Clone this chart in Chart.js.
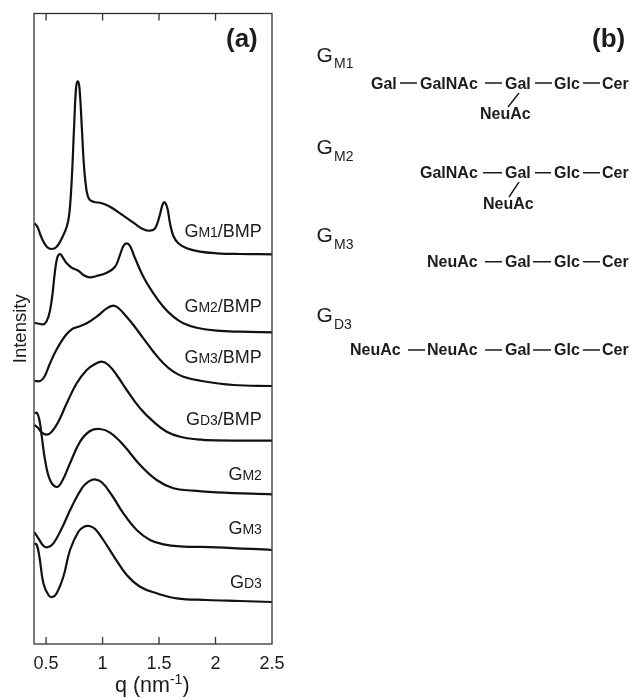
<!DOCTYPE html>
<html>
<head>
<meta charset="utf-8">
<title>Scattering profiles</title>
<script src="https://cdn.jsdelivr.net/npm/chart.js@4/dist/chart.umd.min.js"></script>
<style>
  html, body { margin: 0; padding: 0; background: #fff; }
  canvas { display: block; }
</style>
</head>
<body>
<canvas id="profiles" width="631" height="698"></canvas>
<script>
const xTicks = [0.5, 1, 1.5, 2, 2.5];

// curves, stacked offset included
const gm1BmpQ = [0.397, 0.423, 0.462, 0.506, 0.55, 0.594, 0.639, 0.683, 0.706, 0.727, 0.748, 0.765, 0.78, 0.795, 0.816, 0.836, 0.86, 0.883, 0.919, 0.993, 1.066, 1.155, 1.273, 1.361, 1.42, 1.465, 1.503, 1.53, 1.55, 1.574, 1.597, 1.627, 1.671, 1.745, 1.863, 2.01, 2.217, 2.5];
const gm1BmpI = [420.7, 417.3, 405.7, 397.3, 395, 397.3, 405.7, 417.3, 430.7, 464, 517.3, 555.7, 562.7, 556.7, 517.3, 477.3, 452.3, 444.7, 442.3, 440.7, 437.3, 430.7, 421.3, 414.7, 413.3, 415.7, 427.3, 439, 441.7, 435.7, 420.7, 408, 400.7, 395.7, 392.3, 390.7, 390, 389.7];

const gm2BmpQ = [0.397, 0.447, 0.485, 0.521, 0.55, 0.58, 0.6, 0.624, 0.647, 0.683, 0.727, 0.786, 0.83, 0.883, 0.948, 1.037, 1.111, 1.149, 1.184, 1.214, 1.243, 1.288, 1.361, 1.45, 1.538, 1.627, 1.715, 1.833, 2.01, 2.217, 2.5];
const gm2BmpI = [321.3, 320, 320, 327.3, 344, 374, 386.7, 390, 386.7, 380.7, 376.3, 373.3, 369, 366.7, 368, 371.3, 377.3, 387.3, 398, 400.7, 398, 385.7, 367.3, 350.7, 337.3, 327.3, 320.7, 316.3, 313.3, 312.3, 311.7];

const gm3BmpQ = [0.397, 0.447, 0.485, 0.535, 0.594, 0.668, 0.727, 0.771, 0.86, 0.948, 1.037, 1.096, 1.14, 1.199, 1.273, 1.361, 1.45, 1.538, 1.627, 1.715, 1.863, 2.158, 2.5];
const gm3BmpI = [263, 263, 267.3, 280.7, 294.7, 308, 314.7, 316.7, 320.7, 327.3, 335.7, 338.3, 336, 329, 319, 305.7, 292.3, 280.7, 272.3, 267.3, 263.3, 259, 258];

const gd3BmpQ = [0.397, 0.432, 0.462, 0.506, 0.55, 0.609, 0.683, 0.771, 0.86, 0.934, 0.993, 1.052, 1.125, 1.214, 1.332, 1.45, 1.568, 1.686, 1.833, 2.01, 2.5];
const gd3BmpI = [219, 215.7, 211.3, 209.3, 212.3, 222.3, 240.7, 260.7, 274, 280, 282.3, 279, 269, 254, 235.7, 222.3, 212.3, 207.3, 204.7, 203.7, 203.3];

const gm2Q = [0.397, 0.418, 0.441, 0.462, 0.491, 0.535, 0.594, 0.639, 0.712, 0.801, 0.889, 0.978, 1.066, 1.184, 1.332, 1.479, 1.627, 1.804, 2.01, 2.5];
const gm2I = [230.7, 231.3, 224, 207.3, 184, 164, 157, 162.3, 180.7, 202.3, 213, 215, 211.3, 199, 179, 164, 155.7, 153.3, 151.7, 149.7];

const gm3Q = [0.397, 0.432, 0.476, 0.512, 0.565, 0.639, 0.727, 0.816, 0.875, 0.928, 0.993, 1.081, 1.184, 1.302, 1.42, 1.538, 1.686, 2.01, 2.5];
const gm3I = [111.7, 105.7, 98.3, 96.7, 100.7, 115.7, 137.3, 155.7, 162.3, 164.7, 161.7, 149, 130.7, 114, 104, 99.7, 97.7, 96.7, 94];

const gd3Q = [0.397, 0.418, 0.441, 0.476, 0.521, 0.556, 0.594, 0.653, 0.712, 0.786, 0.836, 0.883, 0.934, 1.007, 1.111, 1.214, 1.332, 1.479, 1.656, 1.922, 2.217, 2.5];
const gd3I = [100.7, 99, 87.3, 60.7, 49, 47, 50.7, 67.3, 94, 112.3, 117.3, 118, 115, 104, 85.7, 69, 57.3, 50.7, 45.7, 44, 43, 42];

// curve labels: [G, small part, rest, intensity of the baseline]
const curveLabels = [
  ['G', 'M1', '/BMP', 407],
  ['G', 'M2', '/BMP', 332],
  ['G', 'M3', '/BMP', 281],
  ['G', 'D3', '/BMP', 219],
  ['G', 'M2', '', 164],
  ['G', 'M3', '', 110],
  ['G', 'D3', '', 56],
];
const curveLabelQ = 2.41;

// panel (b)
const lipidNames = [['M1', 61.7], ['M2', 154], ['M3', 242], ['D3', 322]];
const chainWords = [
  ['Gal', 371, 89], ['GalNAc', 420, 89], ['Gal', 505, 89], ['Glc', 554, 89], ['Cer', 602, 89], ['NeuAc', 480, 119],
  ['GalNAc', 420, 177.7], ['Gal', 505, 177.7], ['Glc', 554, 177.7], ['Cer', 602, 177.7], ['NeuAc', 483, 209],
  ['NeuAc', 427, 267], ['Gal', 505, 267], ['Glc', 554, 267], ['Cer', 602, 267],
  ['NeuAc', 350, 355], ['NeuAc', 427, 355], ['Gal', 505, 355], ['Glc', 554, 355], ['Cer', 602, 355],
];
const chainBonds = [
  [400, 83, 417, 83], [485, 83, 502, 83], [535, 83, 552, 83], [583, 83, 600, 83], [519, 93, 508, 107],
  [483, 172.7, 502, 172.7], [535, 172.7, 551, 172.7], [583, 172.7, 600, 172.7], [519, 182, 509, 197],
  [485, 261.7, 502, 261.7], [533, 261.7, 551, 261.7], [583, 261.7, 600, 261.7],
  [408, 350, 425, 350], [485, 350, 502, 350], [533, 350, 551, 350], [583, 350, 600, 350],
];

const ink = '#1c1c1c';
const sans = '"Liberation Sans", Arial, sans-serif';

function toPoints(qs, values) {
  return qs.map((q, i) => ({ x: q, y: values[i] }));
}

function curve(label, qs, values) {
  return {
    label,
    data: toPoints(qs, values),
    borderColor: '#111',
    borderWidth: 2.2,
    pointRadius: 0,
    fill: false,
    tension: 0.4,
  };
}

// frame and inward ticks on top and bottom
const framePlugin = {
  id: 'frame',
  afterDraw(chart) {
    const { ctx, chartArea: area, scales } = chart;
    ctx.save();
    ctx.strokeStyle = '#333';
    ctx.lineWidth = 1.3;
    ctx.strokeRect(area.left, area.top, area.right - area.left, area.bottom - area.top);
    ctx.beginPath();
    xTicks.slice(0, -1).forEach((q) => {
      const px = scales.x.getPixelForValue(q);
      ctx.moveTo(px, area.top);
      ctx.lineTo(px, area.top + 7);
      ctx.moveTo(px, area.bottom);
      ctx.lineTo(px, area.bottom - 7);
    });
    ctx.stroke();
    ctx.restore();
  },
};

function writeParts(ctx, parts, x, y) {
  parts.forEach(([text, font, dy]) => {
    ctx.font = font;
    ctx.fillText(text, x, y + (dy || 0));
    x += ctx.measureText(text).width;
  });
  return x;
}

const textPlugin = {
  id: 'panelText',
  afterDraw(chart) {
    const { ctx, scales } = chart;
    ctx.save();
    ctx.fillStyle = ink;
    ctx.textBaseline = 'alphabetic';
    ctx.textAlign = 'left';

    // curve labels, right aligned
    const big = `18px ${sans}`;
    const small = `14px ${sans}`;
    curveLabels.forEach(([g, sub, rest, level]) => {
      ctx.font = big;
      let width = ctx.measureText(g + rest).width;
      ctx.font = small;
      width += ctx.measureText(sub).width;
      const x = scales.x.getPixelForValue(curveLabelQ) - width;
      writeParts(ctx, [[g, big], [sub, small], [rest, big]], x, scales.y.getPixelForValue(level));
    });

    // axis title with the superscript
    writeParts(ctx, [['q (nm', `21.5px ${sans}`], ['-1', `14px ${sans}`, -8], [')', `21.5px ${sans}`]], 115, 691.5);

    // panel letters
    ctx.font = `bold 26px ${sans}`;
    ctx.fillText('(a)', 226, 47);
    ctx.fillText('(b)', 592, 47);

    // panel (b)
    lipidNames.forEach(([sub, y]) => {
      ctx.font = `21px ${sans}`;
      ctx.fillText('G', 316.5, y);
      ctx.font = `14px ${sans}`;
      ctx.fillText(sub, 334, y + 6.7);
    });
    ctx.font = `bold 16px ${sans}`;
    chainWords.forEach(([word, x, y]) => ctx.fillText(word, x, y));
    ctx.strokeStyle = ink;
    ctx.lineWidth = 1.4;
    ctx.beginPath();
    chainBonds.forEach(([x1, y1, x2, y2]) => {
      ctx.moveTo(x1, y1);
      ctx.lineTo(x2, y2);
    });
    ctx.stroke();
    ctx.restore();
  },
};

new Chart(document.getElementById('profiles'), {
  type: 'line',
  data: {
    datasets: [
      curve('GM1/BMP', gm1BmpQ, gm1BmpI),
      curve('GM2/BMP', gm2BmpQ, gm2BmpI),
      curve('GM3/BMP', gm3BmpQ, gm3BmpI),
      curve('GD3/BMP', gd3BmpQ, gd3BmpI),
      curve('GM2', gm2Q, gm2I),
      curve('GM3', gm3Q, gm3I),
      curve('GD3', gd3Q, gd3I),
    ],
  },
  options: {
    responsive: false,
    animation: false,
    layout: { padding: { top: 13.5, right: 359, left: 0, bottom: 0 } },
    plugins: { legend: { display: false }, tooltip: { enabled: false } },
    scales: {
      x: {
        type: 'linear',
        min: 0.393,
        max: 2.5,
        afterBuildTicks(scale) {
          scale.ticks = xTicks.map((value) => ({ value }));
        },
        afterFit(scale) {
          scale.height = 54;
        },
        grid: { display: false, drawTicks: false },
        border: { display: false },
        ticks: {
          autoSkip: false,
          maxRotation: 0,
          padding: 9,
          color: ink,
          font: { family: sans, size: 18 },
          callback: (value) => String(value),
        },
      },
      y: {
        min: 0,
        max: 630.5,
        afterFit(scale) {
          scale.width = 34;
        },
        grid: { display: false, drawTicks: false },
        border: { display: false },
        ticks: { display: false },
        title: {
          display: true,
          text: 'Intensity',
          color: ink,
          font: { family: sans, size: 18.5 },
          padding: { top: 10, bottom: 0 },
        },
      },
    },
  },
  plugins: [framePlugin, textPlugin],
});
</script>
</body>
</html>
